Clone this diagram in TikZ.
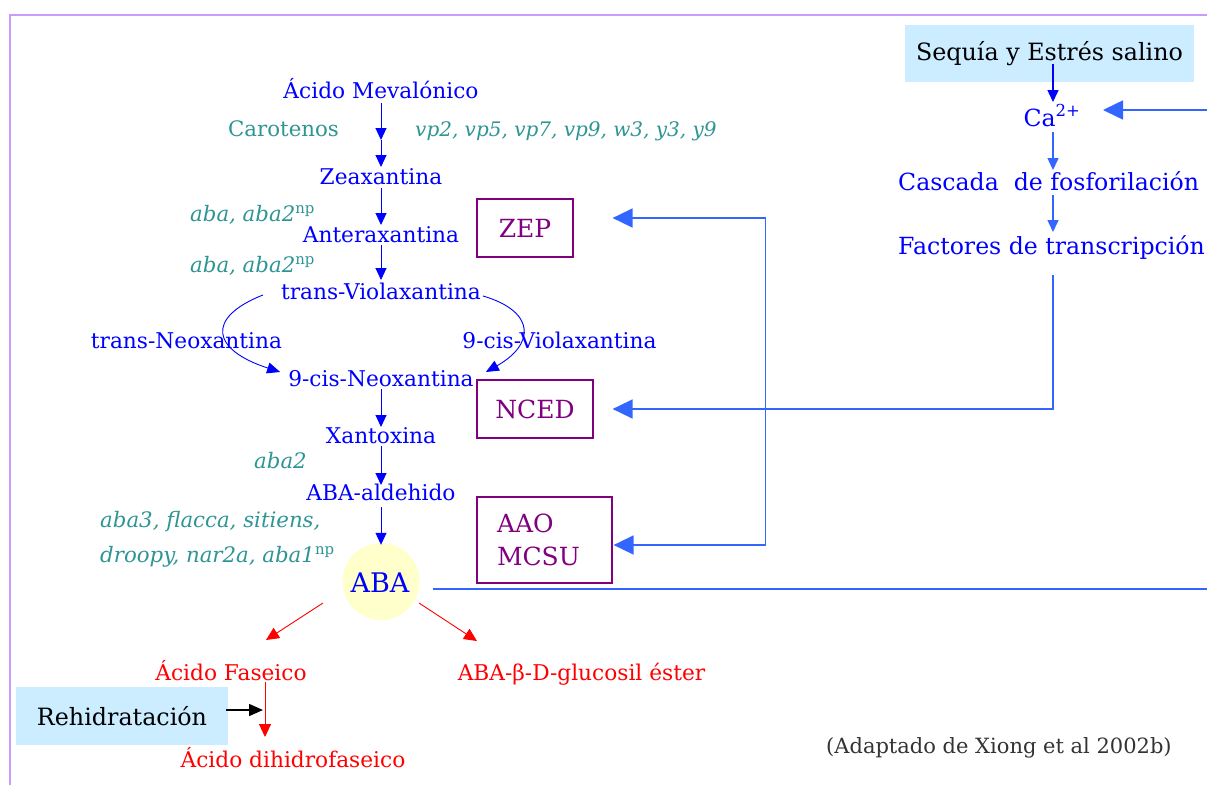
\documentclass[tikz,border=0pt]{standalone}
\usepackage{fontspec}
\setmainfont{DejaVu Serif}
\usetikzlibrary{arrows.meta}
\definecolor{pblue}{HTML}{0000FF}
\definecolor{sblue}{HTML}{3366FF}
\definecolor{gteal}{HTML}{2E9494}
\definecolor{epurple}{HTML}{800080}
\definecolor{framec}{HTML}{CC99FF}
\definecolor{boxblue}{HTML}{CCECFF}
\definecolor{abayellow}{HTML}{FFFFCC}
\definecolor{notec}{HTML}{333333}
\newcommand{\mainsize}{\fontsize{21.7}{24}\selectfont}
\newcommand{\genesize}{\fontsize{21.3}{24}\selectfont}
\newcommand{\sigsize}{\fontsize{23.6}{26}\selectfont}
\begin{document}
\begin{tikzpicture}[x=1pt,y=-1pt,
  lbl/.style={anchor=base,inner sep=0pt,font=\mainsize},
  comp/.style={lbl,text=pblue},
  gene/.style={lbl,anchor=base west,text=gteal,font=\genesize\itshape},
  prod/.style={lbl,text=red},
  siglbl/.style={lbl,anchor=base west,text=pblue,font=\sigsize},
  enz/.style={draw=epurple,line width=1.2pt,text=epurple,font=\fontsize{25}{33}\selectfont,inner sep=0pt},
  cue/.style={fill=boxblue,inner sep=0pt,text=black,font=\fontsize{23.8}{26}\selectfont},
  stepline/.style={pblue,line width=1pt,-{Triangle[length=12pt,width=11pt]}},
  curvline/.style={pblue,line width=0.9pt,-{Triangle[length=13pt,width=11pt]}},
  outline/.style={red,line width=0.9pt,-{Triangle[length=13pt,width=12pt]}},
  sigsmall/.style={sblue,line width=1.5pt,-{Triangle[length=12pt,width=11pt]}},
  sig/.style={sblue,line width=1.6pt},
  bigtip/.style={-{Triangle[length=20pt,width=19pt]}},
]
\useasboundingbox (0,0) rectangle (1207,785);
\draw[framec,line width=1.6pt] (1207,15) -- (10,15) -- (10,785);

% biosynthetic pathway
\node[comp] (mev) at (381,98) {Ácido Mevalónico};
\node[lbl,anchor=base west,text=gteal,font=\genesize] (carot) at (228,136) {Carotenos};
\node[gene,font=\fontsize{20}{24}\selectfont\itshape] (vp) at (415,136) {vp2, vp5, vp7, vp9, w3, y3, y9};
\coordinate (m1) at (381,140);
\node[comp] (zea) at (381,184) {Zeaxantina};
\node[gene] (g1) at (190,221) {aba, aba2\textsuperscript{\upshape np}};
\node[comp] (ant) at (381,242) {Anteraxantina};
\node[gene] (g2) at (190,272) {aba, aba2\textsuperscript{\upshape np}};
\node[comp] (tvio) at (381,299) {trans-Violaxantina};
\node[comp] (tneo) at (186.5,348) {trans-Neoxantina};
\node[comp] (cvio) at (559.5,348) {9-cis-Violaxantina};
\node[comp] (cneo) at (381,386) {9-cis-Neoxantina};
\node[comp] (xan) at (381,443) {Xantoxina};
\node[gene] (g3) at (254,468) {aba2};
\node[comp] (ald) at (381,500) {ABA-aldehido};
\node[gene] (g4a) at (100,527) {aba3, flacca, sitiens,};
\node[gene] (g4b) at (100,562) {droopy, nar2a, aba1\textsuperscript{\upshape np}};
\node[circle,fill=abayellow,minimum size=77pt,inner sep=0pt] (aba) at (381,581.5) {};
\node[comp,font=\fontsize{27}{30}\selectfont] (abat) at (380,592) {ABA};

% catabolism
\node[prod] (fas) at (231,680) {Ácido Faseico};
\node[prod] (glu) at (581.5,680) {ABA-β-D-glucosil éster};
\node[prod] (dhf) at (293,767) {Ácido dihidrofaseico};
\node[cue,minimum width=212pt,minimum height=58pt] (reh) at (122,716) {Rehidratación};
\coordinate (rehin) at (263,710);

% enzymes
\node[enz,minimum width=96pt,minimum height=58pt] (zep) at (525,228) {ZEP};
\node[enz,minimum width=116pt,minimum height=58pt] (nced) at (535,409) {NCED};
\node[enz,minimum height=86pt,text width=95pt,inner xsep=20pt,align=left] (aao) at (544.5,540) {AAO\\MCSU};

% stress signalling
\node[cue,minimum width=289pt,minimum height=57pt] (seq) at (1049.5,53.5) {Sequía y Estrés salino};
\node[siglbl,anchor=base] (ca) at (1052,126) {Ca\textsuperscript{2+}};
\node[siglbl] (casc) at (898,190) {Cascada\ \ de fosforilación};
\node[siglbl] (fact) at (898,254) {Factores de transcripción};
\node[lbl,anchor=base west,text=notec,font=\fontsize{21}{24}\selectfont] (note) at (826,753) {(Adaptado de Xiong et al 2002b)};
\coordinate (eca) at (1207,110);
\coordinate (eaba) at (1207,589);

% pathway arrows
\draw[stepline] ([shift={(0,5)}]mev.base) -- (m1);
\draw[stepline] (m1) -- ([shift={(0,-17)}]zea.base);
\draw[stepline] ([shift={(0,4)}]zea.base) -- ([shift={(0,-17)}]ant.base);
\draw[stepline] ([shift={(0,3)}]ant.base) -- ([shift={(0,-19)}]tvio.base);
\draw[curvline] ([shift={(-18,-4)}]tvio.base west) .. controls (205,318) and (212,350) .. ([shift={(-8,-14)}]cneo.base west);
\draw[curvline] ([shift={(2,-3)}]tvio.base east) .. controls (537,312) and (534,345) .. ([shift={(12,-14)}]cneo.base east);
\draw[stepline] ([shift={(0,3)}]cneo.base) -- ([shift={(0,-16)}]xan.base);
\draw[stepline] ([shift={(0,3)}]xan.base) -- ([shift={(0,-15)}]ald.base);
\draw[stepline] ([shift={(0,7)}]ald.base) -- ([shift={(0,2)}]aba.north);

% catabolic arrows
\draw[outline] ([shift={(-58,21.5)}]aba.center) -- ([shift={(35,-40)}]fas.base);
\draw[outline] ([shift={(38,21.5)}]aba.center) -- ([shift={(-104.5,-39)}]glu.base);
\draw[outline] ([shift={(34,2)}]fas.base) -- ([shift={(-28,-30)}]dhf.base);
\draw[black,line width=1.5pt,-{Triangle[length=14pt,width=12pt]}] ([shift={(-2,-6)}]reh.east) -- (rehin);

% signalling arrows
\draw[pblue,line width=1.5pt,-{Triangle[length=12pt,width=11pt]}] ([shift={(3.5,10.5)}]seq.center) -- ([shift={(1,-24)}]ca.base);
\draw[sig,bigtip] (eca) -- ([shift={(51,-16)}]ca.base);
\draw[sigsmall] ([shift={(1,6)}]ca.base) -- ([shift={(155,-20)}]casc.base west);
\draw[sigsmall] ([shift={(155,5)}]casc.base west) -- ([shift={(155,-22)}]fact.base west);
\draw[sig,bigtip] ([shift={(155,21)}]fact.base west) |- ([shift={(19,0)}]nced.east);
\draw[sig,{Triangle[length=20pt,width=19pt]}-{Triangle[length=20pt,width=19pt]}] ([shift={(39,-10)}]zep.east) -- ++(153,0) |- ([shift={(1,5)}]aao.east);
\draw[sig] ([shift={(51.5,7.5)}]aba.center) -- (eaba);
\end{tikzpicture}
\end{document}
